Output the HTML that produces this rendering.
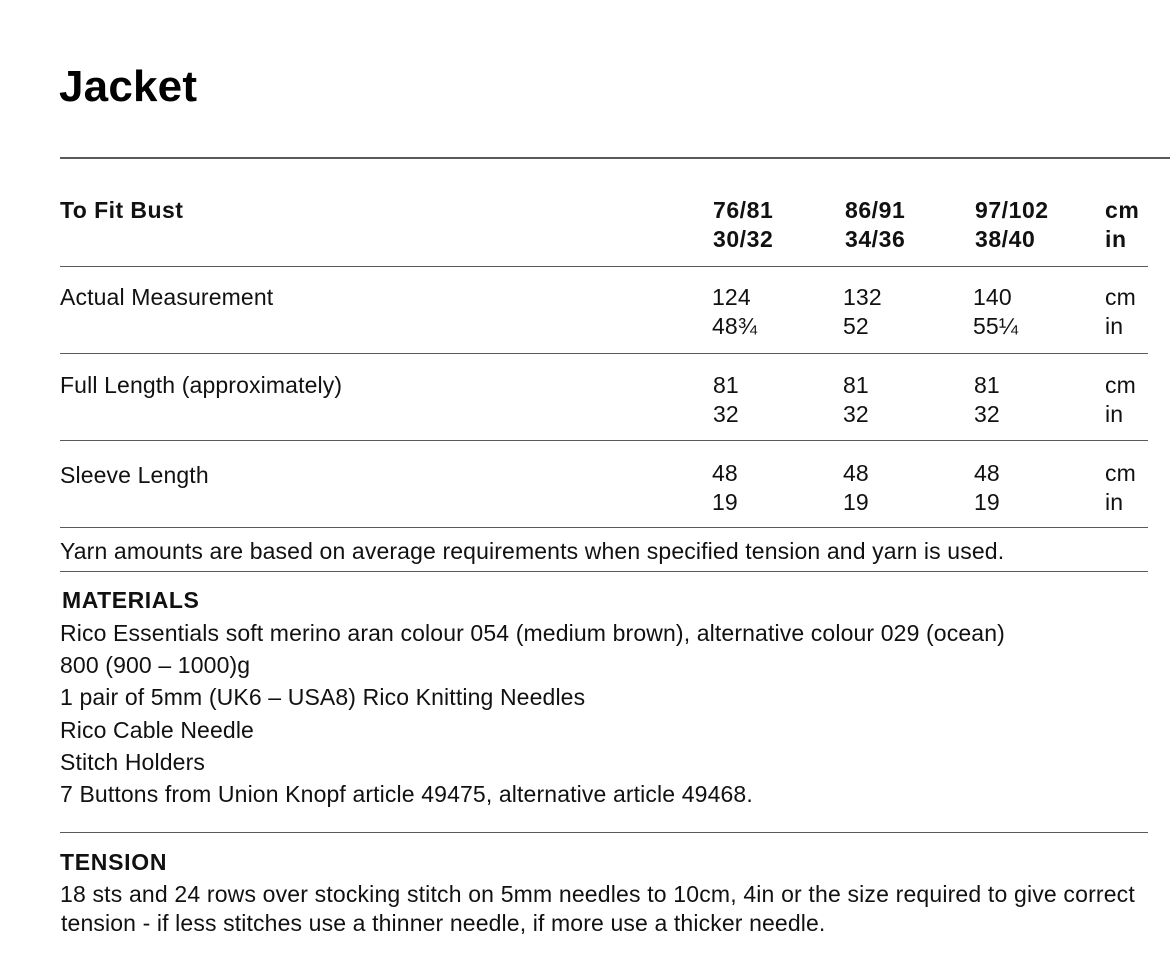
<!DOCTYPE html>
<html>
<head>
<meta charset="utf-8">
<style>
  html, body { margin:0; padding:0; background:#fff; }
  body { width:1170px; height:976px; position:relative; overflow:hidden;
         font-family:"Liberation Sans", Arial, sans-serif; color:#111; }
  .t { position:absolute; white-space:nowrap; font-size:23px; line-height:29px; letter-spacing:0.13px; }
  .b { font-weight:bold; letter-spacing:0.55px; }
  .hr { position:absolute; left:60px; height:1.4px; background:#5a5a5a; }
</style>
</head>
<body>
  <div class="t b" style="left:59px; top:62px; font-size:44px; line-height:50px; color:#000; letter-spacing:0.2px;">Jacket</div>

  <div class="hr" style="top:157px; width:1110px; height:1.6px;"></div>

  <!-- header row -->
  <div class="t b" style="left:60px; top:195.5px; letter-spacing:0.45px;">To Fit Bust</div>
  <div class="t b" style="left:713px; top:195.5px;">76/81<br>30/32</div>
  <div class="t b" style="left:845px; top:195.5px;">86/91<br>34/36</div>
  <div class="t b" style="left:975px; top:195.5px;">97/102<br>38/40</div>
  <div class="t b" style="left:1105px; top:195.5px;">cm<br>in</div>

  <div class="hr" style="top:266px; width:1088px;"></div>

  <!-- Actual Measurement -->
  <div class="t" style="left:60px; top:282.5px;">Actual Measurement</div>
  <div class="t" style="left:712px; top:282.5px;">124<br>48¾</div>
  <div class="t" style="left:843px; top:282.5px;">132<br>52</div>
  <div class="t" style="left:973px; top:282.5px;">140<br>55¼</div>
  <div class="t" style="left:1105px; top:282.5px;">cm<br>in</div>

  <div class="hr" style="top:353px; width:1088px;"></div>

  <!-- Full Length -->
  <div class="t" style="left:60px; top:370.5px;">Full Length (approximately)</div>
  <div class="t" style="left:713px; top:370.5px;">81<br>32</div>
  <div class="t" style="left:843px; top:370.5px;">81<br>32</div>
  <div class="t" style="left:974px; top:370.5px;">81<br>32</div>
  <div class="t" style="left:1105px; top:370.5px;">cm<br>in</div>

  <div class="hr" style="top:440px; width:1088px;"></div>

  <!-- Sleeve Length -->
  <div class="t" style="left:60px; top:460.5px;">Sleeve Length</div>
  <div class="t" style="left:712px; top:458.5px;">48<br>19</div>
  <div class="t" style="left:843px; top:458.5px;">48<br>19</div>
  <div class="t" style="left:974px; top:458.5px;">48<br>19</div>
  <div class="t" style="left:1105px; top:458.5px;">cm<br>in</div>

  <div class="hr" style="top:527px; width:1088px;"></div>

  <div class="t" style="left:60px; top:536.5px;">Yarn amounts are based on average requirements when specified tension and yarn is used.</div>

  <div class="hr" style="top:570.5px; width:1088px;"></div>

  <div class="t b" style="left:62px; top:585.5px;">MATERIALS</div>
  <div class="t" style="left:60px; top:617px; line-height:32.2px;">
    Rico Essentials soft merino aran colour 054 (medium brown), alternative colour 029 (ocean)<br>
    800 (900 – 1000)g<br>
    1 pair of 5mm (UK6 – USA8) Rico Knitting Needles<br>
    Rico Cable Needle<br>
    Stitch Holders<br>
    7 Buttons from Union Knopf article 49475, alternative article 49468.
  </div>

  <div class="hr" style="top:832px; width:1088px;"></div>

  <div class="t b" style="left:60px; top:847.5px; letter-spacing:0.7px;">TENSION</div>
  <div class="t" style="left:60px; top:879.5px; letter-spacing:0.17px;">18 sts and 24 rows over stocking stitch on 5mm needles to 10cm, 4in or the size required to give correct</div>
  <div class="t" style="left:61px; top:908.5px;">tension - if less stitches use a thinner needle, if more use a thicker needle.</div>
</body>
</html>
